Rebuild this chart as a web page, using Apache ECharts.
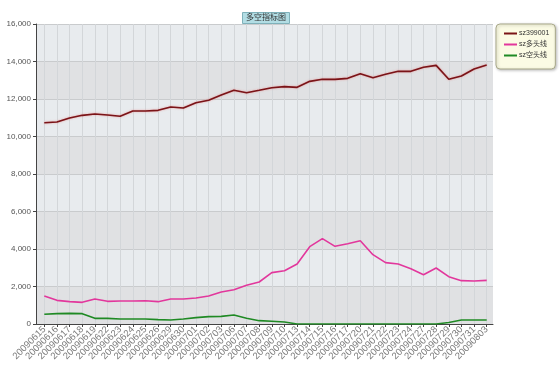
<!DOCTYPE html>
<html><head><meta charset="utf-8">
<script src="https://cdn.jsdelivr.net/npm/echarts@6/dist/echarts.min.js"></script>
<style>html,body{margin:0;padding:0;background:#fff}#c{width:560px;height:378px}</style>
</head><body><div id="c"></div>
<script>
var categories = ['20090615','20090616','20090617','20090618','20090619','20090622','20090623','20090624','20090625','20090626','20090629','20090630','20090701','20090702','20090703','20090706','20090707','20090708','20090709','20090710','20090713','20090714','20090715','20090716','20090717','20090720','20090721','20090722','20090723','20090724','20090727','20090728','20090729','20090730','20090731','20090803'];
var sz399001 = [10736,10773,10987,11129,11200,11147,11076,11360,11360,11395,11573,11520,11804,11929,12213,12462,12338,12462,12600,12658,12622,12942,13049,13049,13102,13351,13137,13315,13475,13475,13689,13795,13049,13226,13600,13813];
var bullLine = [1493,1262,1191,1155,1333,1209,1227,1227,1244,1191,1333,1333,1387,1493,1707,1831,2062,2240,2740,2844,3200,4124,4551,4142,4284,4444,3697,3271,3200,2951,2631,2987,2524,2311,2293,2329];
var bearLine = [516,551,569,551,302,302,267,267,267,231,213,267,338,391,409,480,302,178,150,107,0,0,0,0,0,0,0,0,0,0,0,0,80,213,213,213];
var seriesNames = ['sz399001','sz多头线','sz空头线'];
var font = '"Liberation Sans", Arial, "Noto Sans CJK SC", sans-serif';
var chart = echarts.init(document.getElementById('c'));
chart.setOption({
  animation: false,
  backgroundColor: '#ffffff',
  title: {
    text: '多空指标图', left: 242, top: 12, padding: [2, 4],
    backgroundColor: '#b2dde4', borderColor: '#7fb1ba', borderWidth: 1,
    textStyle: {fontSize: 8, fontWeight: 'normal', color: '#333', fontFamily: font}
  },
  legend: {
    orient: 'vertical', left: 496, top: 24,
    padding: [6, 6, 10, 8], itemGap: 4, itemWidth: 13, itemHeight: 2,
    icon: 'rect',
    backgroundColor: '#fbfbe4', borderColor: '#a9a98a', borderWidth: 1, borderRadius: 4,
    shadowColor: 'rgba(0,0,0,0.25)', shadowBlur: 3, shadowOffsetX: 1, shadowOffsetY: 1,
    textStyle: {fontSize: 7, color: '#333', fontFamily: font, padding: [0,0,0,-3]},
    data: seriesNames
  },
  grid: [
    {left: 36, right: 67, top: 24, bottom: 54},
    {left: 44.3, right: 73.3, top: 24, bottom: 54}
  ],
  xAxis: [
    {
      gridIndex: 0, type: 'category', data: categories, boundaryGap: true,
      axisLine: {lineStyle: {color: '#444', width: 1}},
      axisTick: {show: false}, axisLabel: {show: false}, splitLine: {show: false}
    },
    {
      gridIndex: 1, type: 'category', data: categories, boundaryGap: false, z: 1,
      axisLine: {show: false},
      axisTick: {show: true, length: 3, lineStyle: {color: '#444'}},
      axisLabel: {rotate: 45, fontSize: 9.5, color: '#7a7a7a', fontFamily: font, margin: 4, interval: 0},
      splitLine: {show: true, lineStyle: {color: '#d3d6d9', width: 1}}
    }
  ],
  yAxis: [
    {
      gridIndex: 0, type: 'value', min: 0, max: 16000, interval: 2000,
      axisLine: {show: true, lineStyle: {color: '#444', width: 1}},
      axisTick: {show: true, length: 3, lineStyle: {color: '#444'}},
      axisLabel: {fontSize: 8, color: '#555', fontFamily: font, margin: 5,
        formatter: function(v){ return v.toLocaleString('en-US'); }},
      splitLine: {show: true, lineStyle: {color: '#c9cbcd', width: 1}},
      splitArea: {show: true, areaStyle: {color: ['#e0e1e3', '#e8ebee']}}
    },
    {
      gridIndex: 1, type: 'value', min: 0, max: 16000, show: false,
      splitLine: {show: false}
    }
  ],
  series: [
    {name: seriesNames[0], type: 'line', xAxisIndex: 1, yAxisIndex: 1, data: sz399001, symbol: 'none',
     itemStyle: {color: '#7a1418'},
     lineStyle: {color: '#7a1418', width: 1.6, shadowColor: 'rgba(230,120,120,0.7)', shadowBlur: 2}},
    {name: seriesNames[1], type: 'line', xAxisIndex: 1, yAxisIndex: 1, data: bullLine, symbol: 'none',
     itemStyle: {color: '#e2379c'},
     lineStyle: {color: '#e2379c', width: 1.6}},
    {name: seriesNames[2], type: 'line', xAxisIndex: 1, yAxisIndex: 1, data: bearLine, symbol: 'none',
     itemStyle: {color: '#1f8a24'},
     lineStyle: {color: '#1f8a24', width: 1.6}}
  ]
});
</script></body></html>
